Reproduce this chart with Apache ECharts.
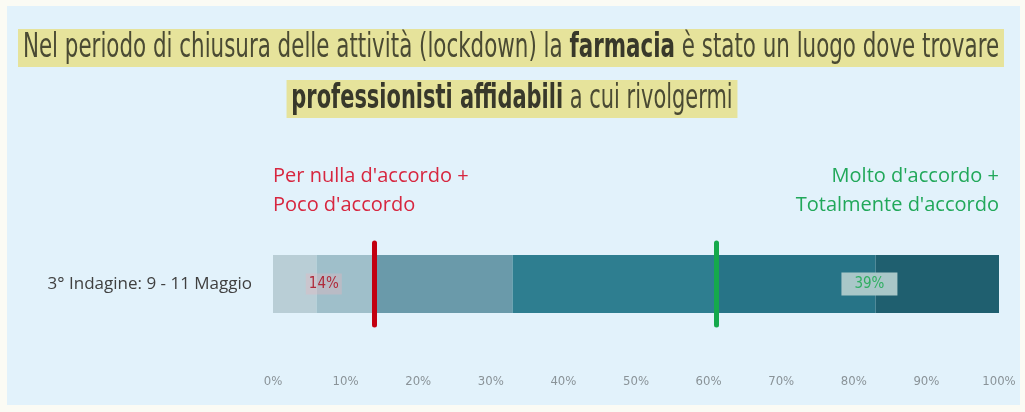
<!DOCTYPE html>
<html>
<head>
<meta charset="utf-8">
<script src="https://cdn.jsdelivr.net/npm/echarts@6/dist/echarts.min.js"></script>
<style>
  html, body { margin: 0; padding: 0; background: #fbfbf4; }
  #chart { width: 1025px; height: 412px; }
</style>
</head>
<body>
<div id="chart"></div>
<script>
// Survey wave shown on the single bar
const categories = ['3° Indagine: 9 - 11 Maggio'];
// Answer shares (%), from "per nulla d'accordo" to "totalmente d'accordo"
const segmentValues = [6, 8, 19, 28, 22, 17];
const segmentColors = ['#b9ced6', '#9fbfca', '#6a9aaa', '#2e7e90', '#277487', '#1f5f6f'];
// Grouped totals
const disagreeTotal = 14;   // Per nulla + Poco d'accordo
const agreeTotal = 39;      // Molto + Totalmente d'accordo
const neutralTotal = 100 - disagreeTotal - agreeTotal;
// Axis ticks
const tickValues = [0, 10, 20, 30, 40, 50, 60, 70, 80, 90, 100];

const chart = echarts.init(document.getElementById('chart'), null, { renderer: 'canvas' });

const condensed = '"DejaVu Sans Condensed", "DejaVu Sans", sans-serif';
const textFont = '"Open Sans", "Noto Sans", sans-serif';

const segmentSeries = segmentValues.map((v, i) => ({
  type: 'bar',
  stack: 'detail',
  barWidth: 58,
  silent: true,
  itemStyle: { color: segmentColors[i] },
  data: [v],
  markLine: i === 0 ? {
    silent: true,
    symbol: ['none', 'none'],
    label: { show: false },
    data: [
      { xAxis: disagreeTotal, lineStyle: { color: '#c30010', width: 5, type: 'solid', cap: 'round' } },
      { xAxis: 100 - agreeTotal, lineStyle: { color: '#15a94b', width: 5, type: 'solid', cap: 'round' } }
    ]
  } : undefined
}));

// Transparent overlay stack carrying the grouped-total labels
const summary = [
  { value: disagreeTotal, label: {
      show: true, position: 'inside', formatter: disagreeTotal + '%',
      color: '#b02a3a', fontFamily: condensed, fontSize: 15,
      backgroundColor: 'rgba(236,180,190,0.35)', padding: [3, 3]
  } },
  { value: neutralTotal, label: { show: false } },
  { value: agreeTotal, label: {
      show: true, position: 'inside', formatter: agreeTotal + '%', offset: [12, 0],
      color: '#2fae62', fontFamily: condensed, fontSize: 15,
      backgroundColor: '#a9c7c8', padding: [4, 13]
  } }
];
const summarySeries = summary.map(s => ({
  type: 'bar',
  stack: 'summary',
  barWidth: 58,
  barGap: '-100%',
  silent: true,
  z: 5,
  itemStyle: { color: 'rgba(0,0,0,0)' },
  label: s.label,
  data: [s.value]
}));

const titleRich = { b: { fontWeight: 'bold', fontSize: 34, fontFamily: condensed, fill: '#38382a' } };

chart.setOption({
  animation: false,
  backgroundColor: '#fbfbf4',
  graphic: [
    { type: 'rect', z: -10, shape: { x: 7, y: 6, width: 1013, height: 399 },
      style: { fill: '#e2f2fb' } },
    { type: 'text', x: 511, y: 48, scaleX: 0.70, z: 10,
      style: {
        text: 'Nel periodo di chiusura delle attività (lockdown) la {b|farmacia} è stato un luogo dove trovare',
        font: '34px ' + condensed, fill: '#4a4a33',
        align: 'center', verticalAlign: 'middle',
        backgroundColor: '#e6e39b', padding: [2, 7],
        rich: titleRich
      } },
    { type: 'text', x: 512, y: 99, scaleX: 0.685, z: 10,
      style: {
        text: '{b|professionisti affidabili} a cui rivolgermi',
        font: '34px ' + condensed, fill: '#4a4a33',
        align: 'center', verticalAlign: 'middle',
        backgroundColor: '#e6e39b', padding: [2, 7],
        rich: titleRich
      } },
    { type: 'text', x: 273, y: 162, z: 10,
      style: {
        text: "Per nulla d'accordo +\nPoco d'accordo",
        font: '20px ' + textFont, fill: '#d7263f', lineHeight: 29,
        align: 'left', verticalAlign: 'top'
      } },
    { type: 'text', x: 999, y: 162, z: 10,
      style: {
        text: "Molto d'accordo +\nTotalmente d'accordo",
        font: '20px ' + textFont, fill: '#21a85a', lineHeight: 29,
        align: 'right', verticalAlign: 'top'
      } }
  ],
  grid: { left: 273, right: 26, top: 243, height: 82, containLabel: false },
  xAxis: {
    type: 'value', min: 0, max: 100, interval: 10,
    axisLine: { show: false }, axisTick: { show: false }, splitLine: { show: false },
    axisLabel: {
      margin: 50, color: '#8a9398', fontFamily: condensed, fontSize: 13,
      formatter: v => tickValues.includes(v) ? v + '%' : ''
    }
  },
  yAxis: {
    type: 'category', data: categories,
    axisLine: { show: false }, axisTick: { show: false },
    axisLabel: { margin: 21, color: '#404040', fontFamily: textFont, fontSize: 17 }
  },
  series: segmentSeries.concat(summarySeries)
});
</script>
</body>
</html>
